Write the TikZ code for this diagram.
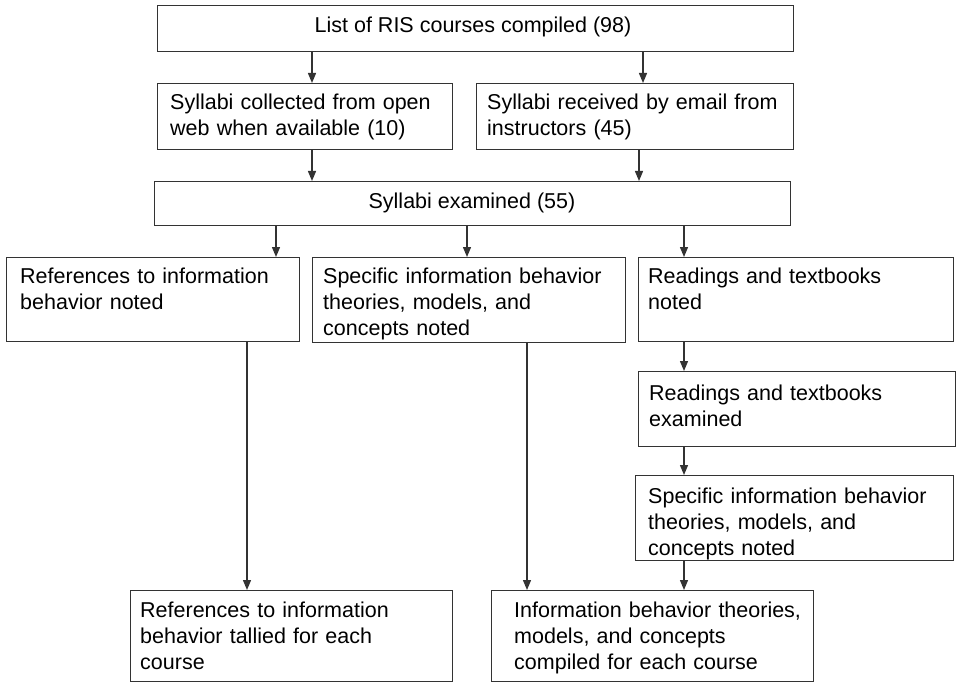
\documentclass[tikz,border=0pt]{standalone}
\usepackage{fontspec}
\setmainfont{Liberation Sans}
\usetikzlibrary{arrows.meta}
\newcommand{\flowbox}[5]{\node[boxst, anchor=north west, minimum width={(#4-#2)*1pt}, minimum height={(#5-#3)*1pt}] (#1) at (#2,#3) {};}
\begin{document}
\begin{tikzpicture}[x=1pt,y=-1pt,
  boxst/.style={draw=black!80, line width=1.3pt, inner sep=0pt, fill=none},
  txt/.style={anchor=base west, text width=330pt, align=left, inner sep=0pt, font=\fontsize{21.5}{26}\selectfont},
  txtc/.style={anchor=base, inner sep=0pt, font=\fontsize{21.5}{26}\selectfont},
  arr/.style={draw=black!80, line width=1.3pt, -{Triangle[length=10pt,width=8pt]}}]
\useasboundingbox[fill=white] (0,0) rectangle (956,682);
% boxes
\flowbox{b1}{157}{5}{793}{51}
\flowbox{b2}{157}{83}{452}{149}
\flowbox{b3}{476}{83}{793}{149}
\flowbox{b4}{154}{181}{790}{225}
\flowbox{b5}{6}{257}{299}{341}
\flowbox{b6}{312}{257}{625}{342}
\flowbox{b7}{638}{257}{953}{341}
\flowbox{b8}{638}{371}{955}{446}
\flowbox{b9}{635}{475}{953}{560}
\flowbox{b10}{130}{590}{452}{681}
\flowbox{b11}{491}{590}{813}{681}
% texts
\node[txtc] (t1) at (473,33) {List of RIS courses compiled (98)};
\node[txt] (t2) at (170,110) {Syllabi collected from open\\web when available (10)};
\node[txt] (t3) at (487,110) {Syllabi received by email from\\instructors (45)};
\node[txtc] (t4) at (472,208) {Syllabi examined (55)};
\node[txt] (t5) at (20,283) {References to information\\behavior noted};
\node[txt] (t6) at (323,283) {Specific information behavior\\theories, models, and\\concepts noted};
\node[txt] (t7) at (648,283) {Readings and textbooks\\noted};
\node[txt] (t8) at (649,400) {Readings and textbooks\\examined};
\node[txt] (t9) at (648,503) {Specific information behavior\\theories, models, and\\concepts noted};
\node[txt] (t10) at (140,617) {References to information\\behavior tallied for each\\course};
\node[txt] (t11) at (514,617) {Information behavior theories,\\models, and concepts\\compiled for each course};
% arrow columns
\coordinate (c312) at (312,0);
\coordinate (c643) at (643,0);
\coordinate (c639) at (639,0);
\coordinate (c276) at (276,0);
\coordinate (c467) at (467,0);
\coordinate (c684) at (684,0);
\coordinate (c247) at (247,0);
\coordinate (c527) at (527,0);
% arrows
\draw[arr] (b1.south -| c312) -- (b2.north -| c312);
\draw[arr] (b1.south -| c643) -- (b3.north -| c643);
\draw[arr] (b2.south -| c312) -- (b4.north -| c312);
\draw[arr] (b3.south -| c639) -- (b4.north -| c639);
\draw[arr] (b4.south -| c276) -- (b5.north -| c276);
\draw[arr] (b4.south -| c467) -- (b6.north -| c467);
\draw[arr] (b4.south -| c684) -- (b7.north -| c684);
\draw[arr] (b7.south -| c684) -- (b8.north -| c684);
\draw[arr] (b8.south -| c684) -- (b9.north -| c684);
\draw[arr] (b9.south -| c684) -- (b11.north -| c684);
\draw[arr] (b5.south -| c247) -- (b10.north -| c247);
\draw[arr] (b6.south -| c527) -- (b11.north -| c527);
\end{tikzpicture}
\end{document}
